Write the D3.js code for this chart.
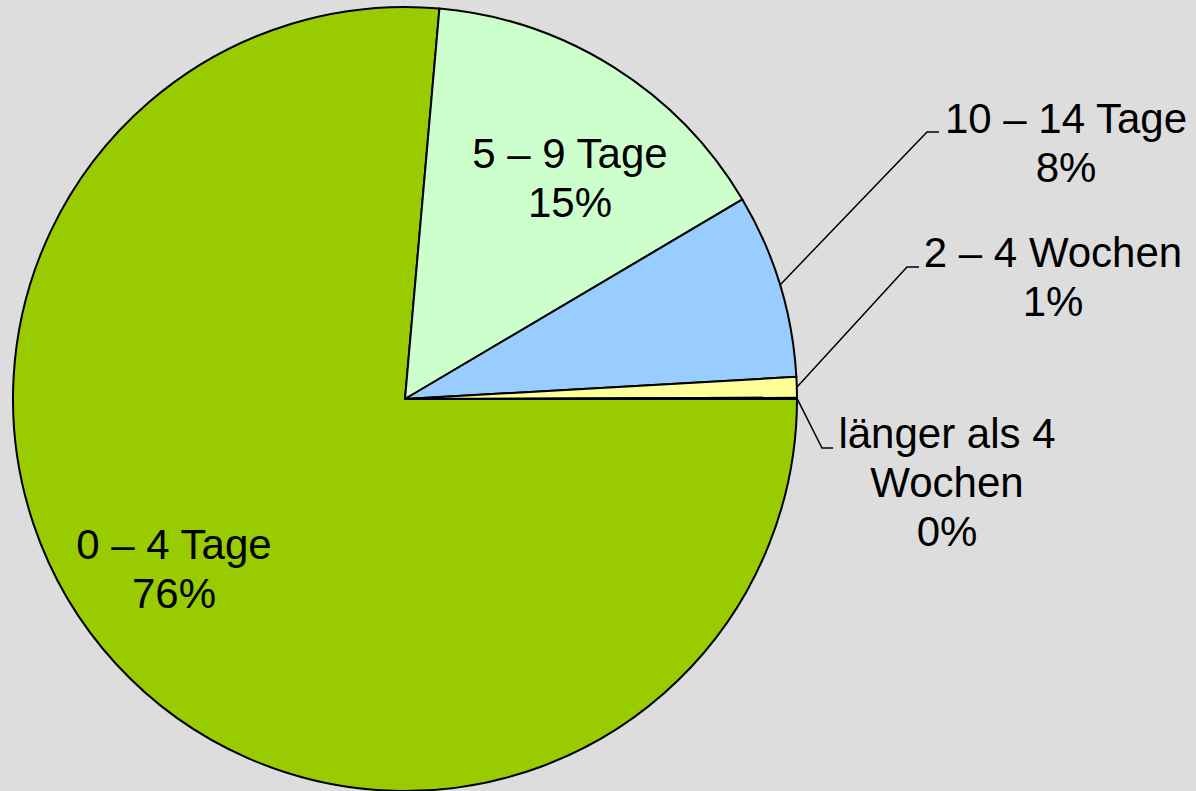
<!DOCTYPE html>
<html>
<head>
<meta charset="utf-8">
<script src="https://cdn.jsdelivr.net/npm/d3@7"></script>
<style>
  html, body { margin: 0; padding: 0; background: #dddddd; }
  svg { display: block; }
  text { font-family: "Liberation Sans", Arial, sans-serif; fill: #000; }
</style>
</head>
<body>
<svg id="chart" width="1196" height="791"></svg>
<script>
// ---- Data ----
const categories = ["0 – 4 Tage", "5 – 9 Tage", "10 – 14 Tage", "2 – 4 Wochen", "länger als 4 Wochen"];
const labelLines = [["0 – 4 Tage"], ["5 – 9 Tage"], ["10 – 14 Tage"], ["2 – 4 Wochen"], ["länger als 4", "Wochen"]];
const values = [76.4, 15.1, 7.6, 0.85, 0.05];
const colors = ["#99CC00", "#CCFFCC", "#99CCFF", "#FFFF99", "#FF8080"];

// ---- Layout (positions only) ----
const W = 1196, H = 791;
const cx = 405, cy = 399, R = 392;
const fontSize = 42, lineH = 49;
// label anchor: x centre, y of first baseline; leader: bend point, end x
const layout = [
  { x: 174, y: 559, leader: null },
  { x: 570, y: 168, leader: null },
  { x: 1066, y: 133, leader: { bx: 927, by: 132, ex: 939 } },
  { x: 1053, y: 267, leader: { bx: 907, by: 267, ex: 919 } },
  { x: 947, y: 448, leader: { bx: 822, by: 448, ex: 833 } }
];

const svg = d3.select("#chart");
svg.append("rect").attr("width", W).attr("height", H).attr("fill", "#dddddd");

const total = d3.sum(values);
const pie = d3.pie().sort(null).value(d => d)
  .startAngle(Math.PI / 2).endAngle(Math.PI / 2 + 2 * Math.PI);
const arcs = pie(values);
const arc = d3.arc().innerRadius(0).outerRadius(R);

const g = svg.append("g").attr("transform", `translate(${cx},${cy})`);
g.selectAll("path.slice").data(arcs).join("path")
  .attr("class", "slice")
  .attr("d", arc)
  .attr("fill", (d, i) => colors[i])
  .attr("stroke", "#000")
  .attr("stroke-width", 2)
  .attr("stroke-linejoin", "round");

// Leader lines
arcs.forEach((d, i) => {
  const L = layout[i].leader;
  if (!L) return;
  const mid = (d.startAngle + d.endAngle) / 2;
  const sx = cx + R * Math.sin(mid);
  const sy = cy - R * Math.cos(mid);
  svg.append("polyline")
    .attr("points", `${sx},${sy} ${L.bx},${L.by} ${L.ex},${L.by}`)
    .attr("fill", "none")
    .attr("stroke", "#000")
    .attr("stroke-width", 1.5);
});

// Labels
arcs.forEach((d, i) => {
  const pct = Math.round(values[i] / total * 100) + "%";
  const lines = labelLines[i].concat([pct]);
  const t = svg.append("text")
    .attr("text-anchor", "middle")
    .attr("font-size", fontSize);
  lines.forEach((ln, k) => {
    t.append("tspan")
      .attr("x", layout[i].x)
      .attr("y", layout[i].y + k * lineH)
      .text(ln);
  });
});
</script>
</body>
</html>
